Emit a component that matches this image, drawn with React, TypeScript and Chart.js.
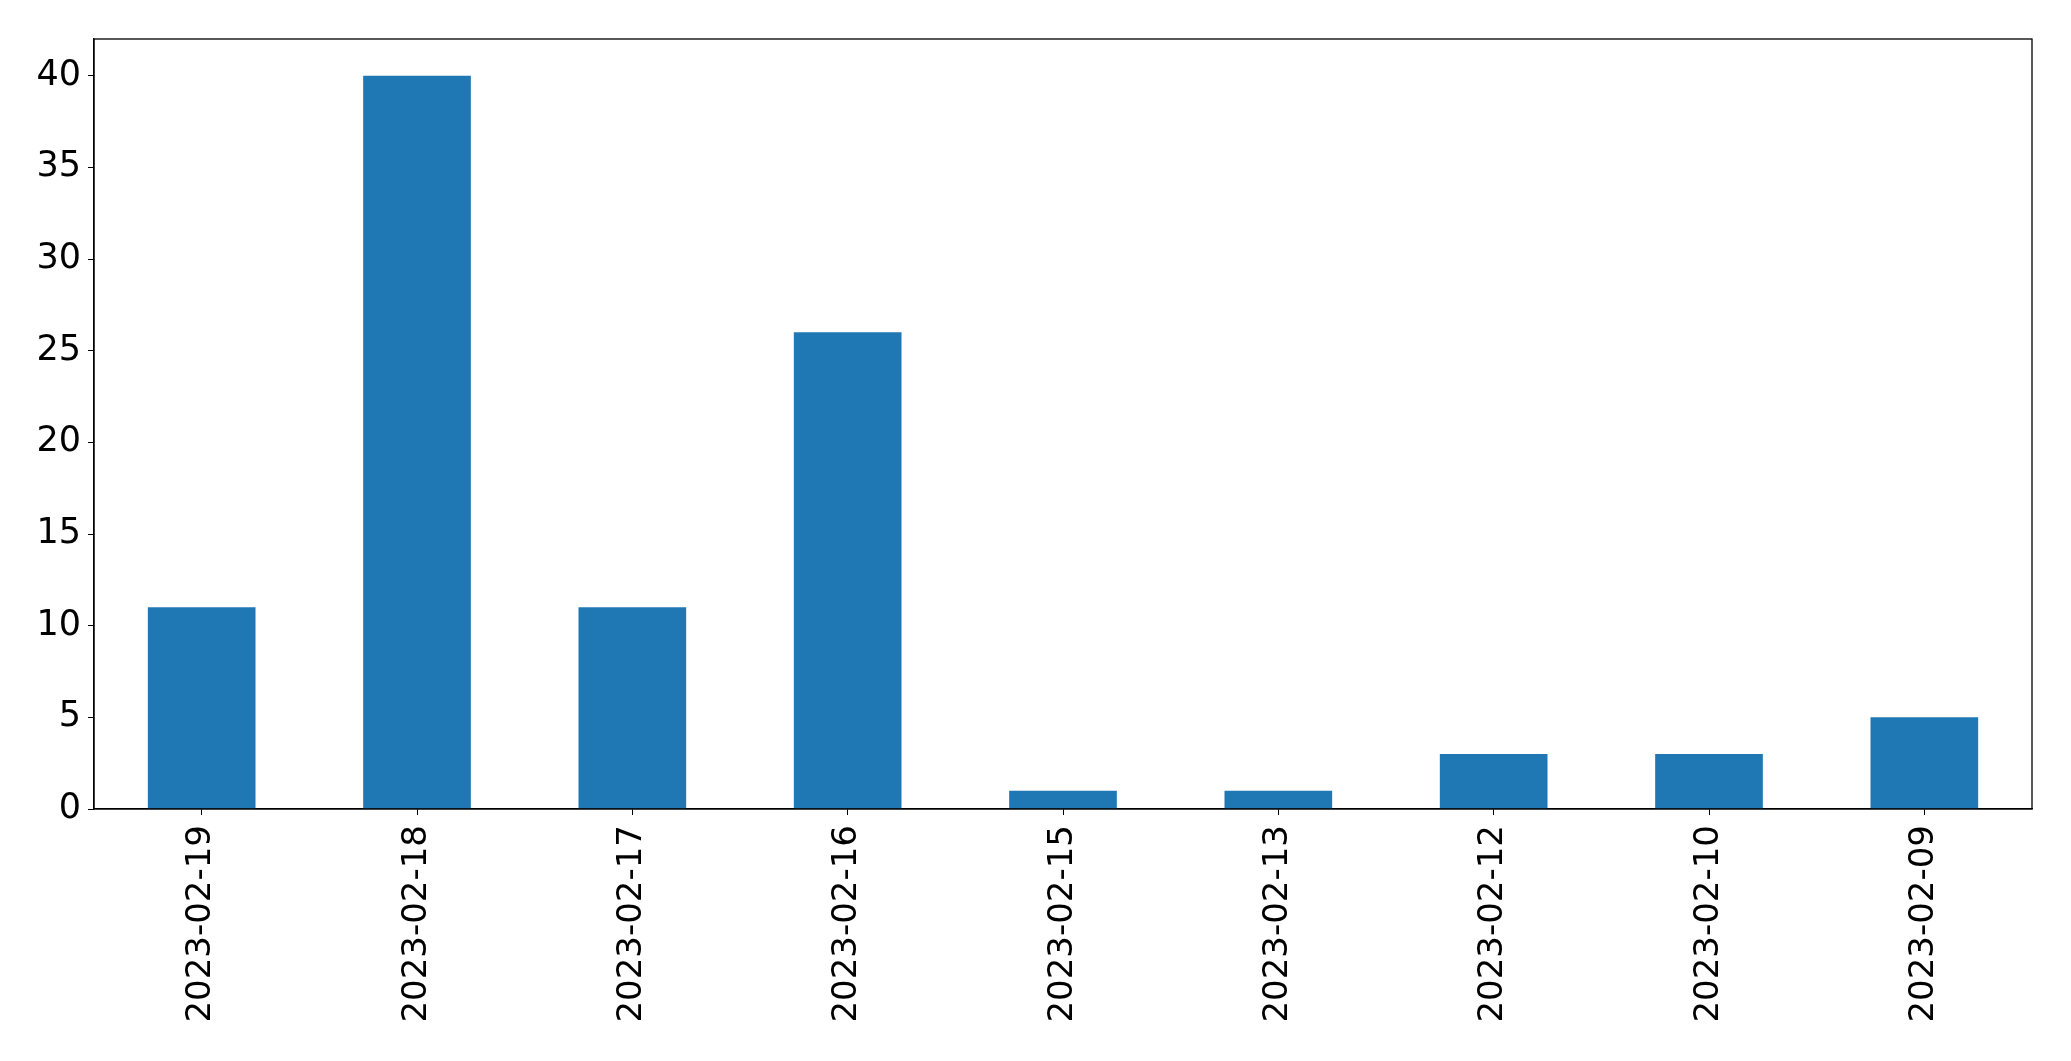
import React, { useEffect, useRef } from "react";
import { Chart, registerables } from "chart.js";

Chart.register(...registerables);

const categories = [
  "2023-02-19",
  "2023-02-18",
  "2023-02-17",
  "2023-02-16",
  "2023-02-15",
  "2023-02-13",
  "2023-02-12",
  "2023-02-10",
  "2023-02-09",
];
const values = [11, 40, 11, 26, 1, 1, 3, 3, 5];
const yTicks = [0, 5, 10, 15, 20, 25, 30, 35, 40];

const frame = {
  id: "frame",
  afterDatasetsDraw(chart: any) {
    const { ctx, chartArea } = chart;
    ctx.save();
    ctx.strokeStyle = "#000";
    ctx.lineWidth = 1.3;
    ctx.strokeRect(chartArea.left, chartArea.top, chartArea.right - chartArea.left, chartArea.bottom - chartArea.top);
    ctx.restore();
  },
};

export default function App() {
  const ref = useRef<HTMLCanvasElement>(null);
  useEffect(() => {
    if (!ref.current) return;
    const chart = new Chart(ref.current, {
      type: "bar",
      data: {
        labels: categories,
        datasets: [
          {
            data: values,
            backgroundColor: "#1f77b4",
            categoryPercentage: 1,
            barPercentage: 0.5,
          },
        ],
      },
      options: {
        animation: false,
        responsive: false,
        devicePixelRatio: 1,
        layout: { padding: { top: 39, right: 39, left: 0, bottom: 0 } },
        plugins: { legend: { display: false }, tooltip: { enabled: false } },
        scales: {
          x: {
            offset: true,
            grid: { offset: false, drawOnChartArea: false, drawTicks: true, tickLength: 6, color: "#000" },
            border: { display: true, color: "#000", width: 1.3 },
            ticks: {
              font: { family: "DejaVu Sans", size: 34 },
              color: "#000",
              minRotation: 90,
              maxRotation: 90,
              padding: 10,
              autoSkip: false,
            },
            afterFit(scale: any) {
              scale.height = 252;
            },
          },
          y: {
            min: 0,
            max: 42,
            afterBuildTicks(scale: any) {
              scale.ticks = yTicks.map((v) => ({ value: v }));
            },
            grid: { drawOnChartArea: false, drawTicks: true, tickLength: 6, color: "#000" },
            border: { display: true, color: "#000", width: 1.3 },
            ticks: { font: { family: "DejaVu Sans", size: 35 }, color: "#000", padding: 7 },
            afterFit(scale: any) {
              scale.width = 94;
            },
          },
        },
      },
      plugins: [frame],
    });
    return () => chart.destroy();
  }, []);
  return (
    <div style={{ position: "absolute", left: 0, top: 0, width: 2071, height: 1061, background: "#fff" }}>
      <canvas ref={ref} width={2071} height={1061} style={{ width: 2071, height: 1061 }} />
    </div>
  );
}
